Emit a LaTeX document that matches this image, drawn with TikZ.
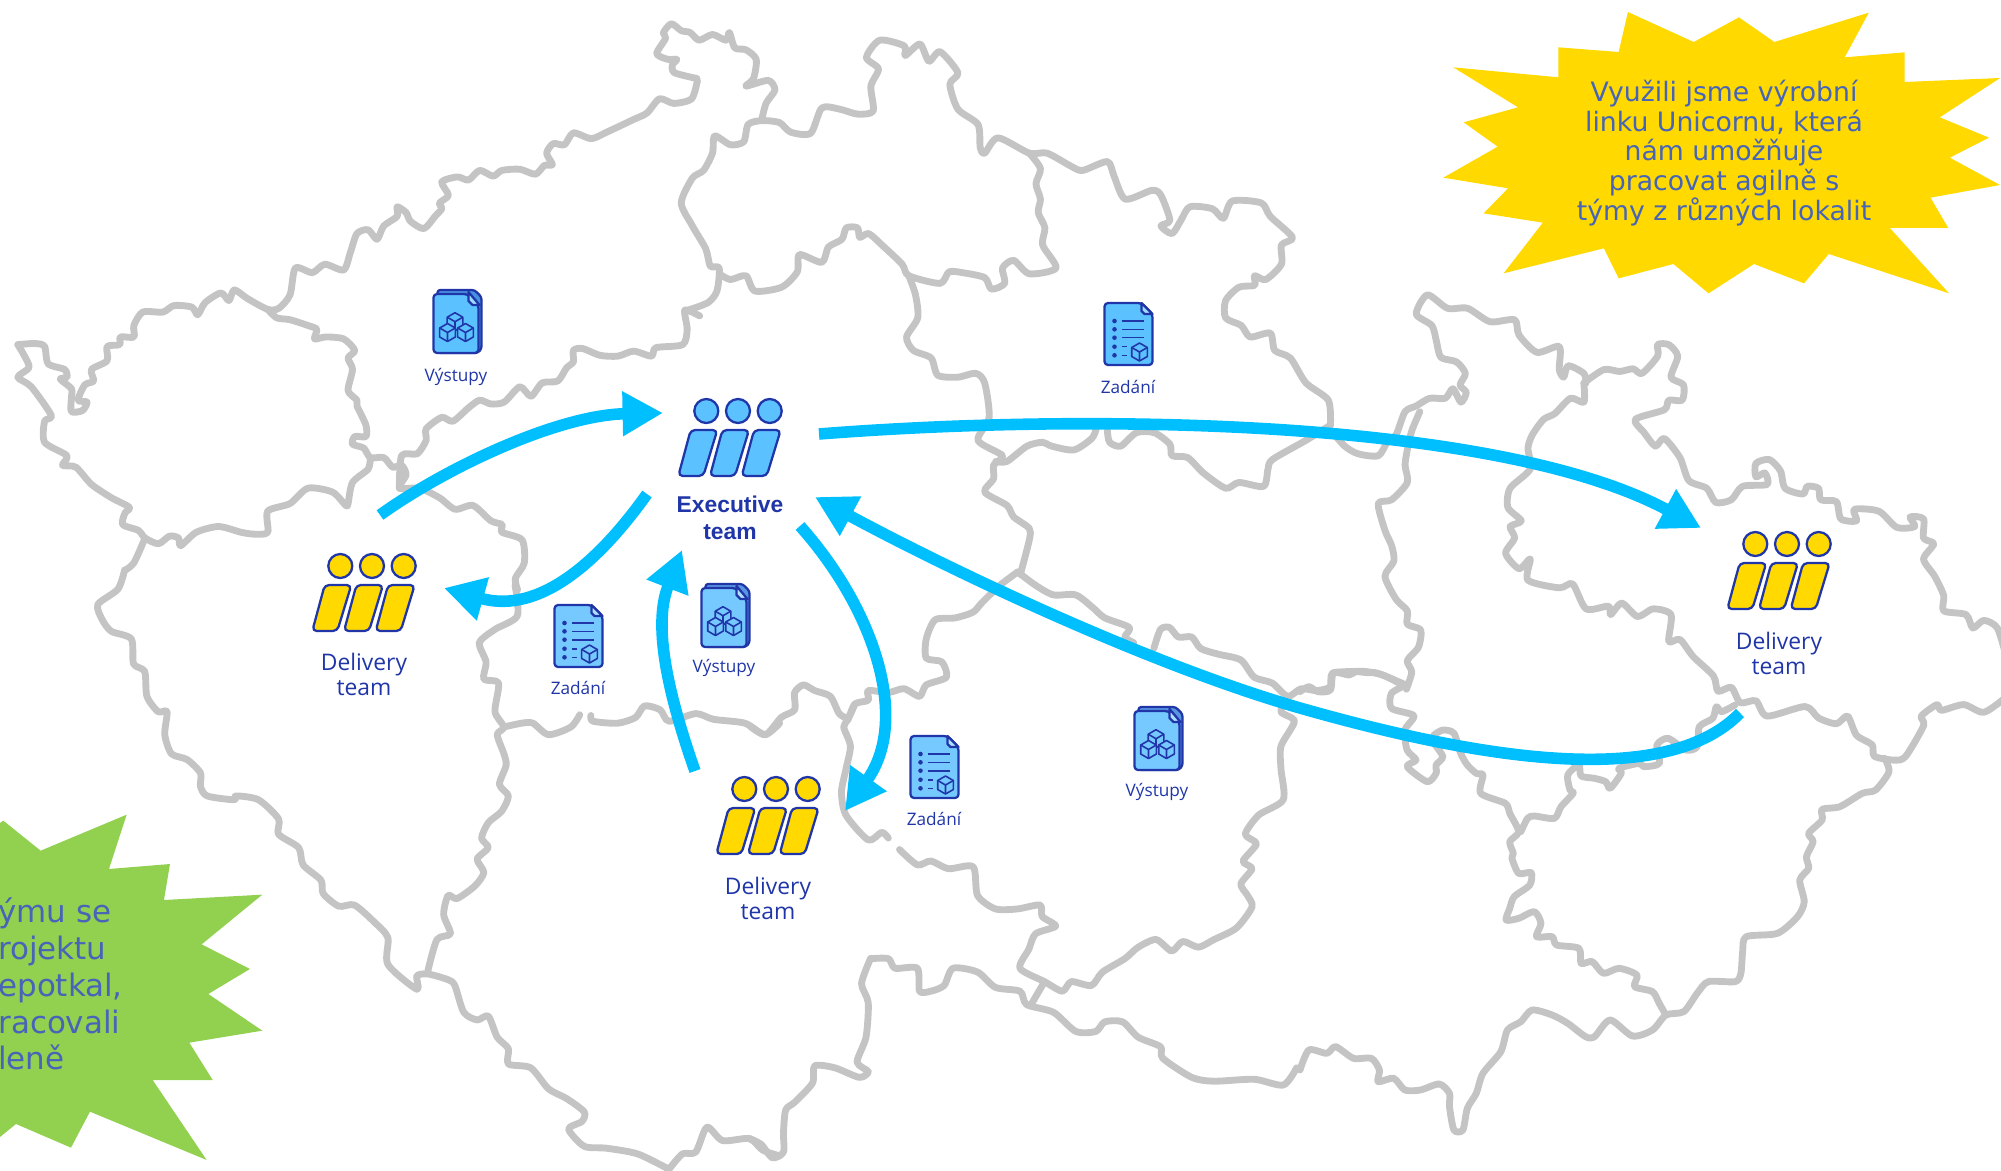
\documentclass[tikz,border=0pt]{standalone}
\usepackage{fontspec}
\setmainfont{DejaVu Sans}
\newfontfamily\labelfont{Open Sans}
\newfontfamily\execfont{Liberation Sans}
\usetikzlibrary{arrows.meta,calc}
\definecolor{mapgray}{HTML}{C4C4C4}
\definecolor{flowblue}{HTML}{00BFFF}
\definecolor{inkblue}{HTML}{2036A8}
\definecolor{skyfill}{HTML}{5CC2FF}
\definecolor{skyfilltwo}{HTML}{76C9FF}
\definecolor{teamyellow}{HTML}{FFD900}
\definecolor{stargreen}{HTML}{92D050}
\definecolor{startext}{HTML}{4664B8}
\tikzset{
  crop/.style n args={4}{shift={(#1,#2)},x=#3cm,y=-#4cm},
  mapline/.style={draw=mapgray,line width=3.9pt,line join=round,line cap=round},
  flow/.style={draw=flowblue,line width=6.6pt,-{Triangle[length=23pt,width=24pt]}},
  iconline/.style={draw=inkblue,line width=1.3pt,line join=round},
  startxt/.style={text=startext,inner sep=0pt},
  teamlabel/.style={text=inkblue,align=center,inner sep=0pt,font=\labelfont\fontsize{13}{14.2}\selectfont},
  execlabel/.style={text=inkblue,align=center,inner sep=0pt,font=\execfont\bfseries\fontsize{13}{15.3}\selectfont},
  doclabel/.style={text=inkblue,inner sep=0pt,font=\labelfont\fontsize{9.8}{11}\selectfont},
  pics/teamicon/.style={code={
    \foreach \dx in {-31.7,0,31.7} {
      \draw[iconline,fill=#1] (\dx,0) circle[radius=12];
      \draw[iconline,fill=#1,rounded corners=2.5pt] ({\dx-15.6},19) -- ({\dx+11},19) -- ({\dx-3},65) -- ({\dx-28},65) -- cycle;
    }
  }},
  pics/cubeicon/.style={code={
    \draw[iconline,line width=.9pt,fill=#1] (0,-9) -- (7.8,-4.5) -- (7.8,4.5) -- (0,9) -- (-7.8,4.5) -- (-7.8,-4.5) -- cycle;
    \draw[iconline,line width=.9pt] (-7.8,-4.5) -- (0,0) -- (7.8,-4.5) (0,0) -- (0,9);
  }},
  pics/docstack/.style={code={
    \draw[iconline,fill=inkblue!35!#1,rounded corners=1.5pt] (-20,-31) -- (17,-31) -- (24,-24) -- (24,28) -- (20,32) -- (-20,32) -- cycle;
    \draw[iconline,fill=#1,rounded corners=2pt] (-24,-27) -- (10,-27) -- (21,-16) -- (21,32) -- (-24,32) -- cycle;
    \draw[iconline,fill=white!40!#1] (11,-29) -- (11,-20) -- (15,-16) -- (22,-16) -- cycle;
    \pic at (-2.5,.7) {cubeicon=#1};
    \pic at (-10,11.5) {cubeicon=#1};
    \pic at (8,11.5) {cubeicon=#1};
  }},
  pics/doclist/.style={code={
    \draw[iconline,fill=#1,rounded corners=2pt] (-24,-31) -- (13,-31) -- (24,-20) -- (24,31) -- (-24,31) -- cycle;
    \draw[iconline,fill=white!40!#1] (13,-31) -- (13,-23) -- (16,-20) -- (24,-20) -- cycle;
    \foreach \ly in {-13,-4.7,3.7,12.7,21.3} \fill[inkblue] (-14,\ly) circle[radius=2.3];
    \foreach \ly in {-13,-4.7,3.7} \draw[iconline,line width=.9pt] (-7,\ly) -- (15,\ly);
    \foreach \ly in {12.7,21.3} \draw[iconline,line width=.9pt] (-7,\ly) -- (-2,\ly);
    \pic at (11,18) {cubeicon=#1};
  }}
}
\begin{document}
\begin{tikzpicture}[x=.02cm,y=-.02cm]
  \useasboundingbox (0,0) rectangle (2001,1170);
  \clip (0,0) rectangle (2001,1170);

  \begin{scope}[crop={0}{0}{.008929}{.007654}]
    \draw[mapline] plot[smooth,tension=.45] coordinates {(40,900) (80,897) (100,905) (108,950) (145,965) (150,985) (135,990) (160,1015) (160,1040) (160,1075) (185,1072) (195,1050) (175,1045) (190,1005) (210,995) (205,965) (240,942) (240,905) (268,900) (270,880) (300,880) (300,850) (320,815) (365,815) (390,798) (430,802) (443,822) (460,790) (495,765) (513,785) (525,757) (555,780) (600,808) (625,805) (650,770) (662,700) (700,712) (728,690) (770,705) (785,660) (800,610) (825,600) (845,625) (860,590) (890,565) (890,540) (910,555) (920,578) (950,597) (975,565) (990,545) (985,530) (1005,510) (990,475) (1025,462) (1050,470) (1075,445) (1105,460) (1125,445) (1165,442) (1200,455) (1220,432) (1238,430) (1225,400) (1240,375) (1265,378) (1285,347) (1325,362) (1360,345) (1420,312) (1450,295) (1478,258) (1510,270) (1550,258) (1563,210)};
    \draw[mapline] plot[smooth,tension=.45] coordinates {(600,808) (620,830) (650,835) (690,850) (710,860) (705,885) (730,880) (770,885) (795,915) (780,935) (790,965) (780,1020) (800,1045) (800,1060) (820,1110) (820,1140) (795,1140) (790,1160) (815,1170) (830,1195) (860,1195) (880,1220) (900,1215) (910,1240) (895,1275) (940,1275) (985,1300) (1020,1330) (1060,1320) (1100,1360) (1125,1370) (1125,1390) (1170,1410) (1175,1470) (1155,1510) (1160,1540)};
    \draw[mapline] plot[smooth,tension=.45] coordinates {(830,1195) (825,1225) (790,1260) (780,1315) (775,1320) (745,1285) (690,1275) (650,1315) (600,1335) (600,1390) (570,1395) (540,1390) (490,1375) (440,1390) (405,1425) (400,1405) (380,1400) (355,1420) (325,1405) (310,1385) (275,1370) (280,1340) (290,1325) (250,1300) (205,1265) (170,1220) (140,1215) (150,1190) (100,1155) (100,1100) (115,1085) (70,1010) (40,985) (65,960) (55,930) (40,900)};
    \draw[mapline] plot[smooth,tension=.45] coordinates {(325,1405) (300,1470) (279,1490)};
    \draw[mapline] plot[smooth,tension=.45] coordinates {(895,1275) (900,1190) (935,1185) (955,1150) (955,1120) (990,1090) (1015,1100) (1050,1065) (1075,1045) (1100,1055) (1130,1050) (1165,1010) (1190,1035) (1215,1000) (1250,995) (1270,960) (1285,945) (1285,915) (1305,910) (1345,928) (1385,930) (1420,917) (1460,930) (1470,908) (1530,900) (1540,860) (1535,810) (1568,825)};
  \end{scope}

  \begin{scope}[crop={650}{0}{.008929}{.007654}]
    \draw[mapline] plot[smooth,tension=.45] coordinates {(105,205) (55,190) (50,170) (60,155) (40,155) (15,140) (35,100) (30,85) (48,62) (70,80) (90,85) (110,105) (140,90) (170,105) (178,85) (190,125) (215,130) (238,155) (232,205) (215,225) (265,210) (280,235) (260,270) (250,315)};
    \draw[mapline] plot[smooth,tension=.45] coordinates {(78,810) (85,810) (130,790) (150,760) (155,700) (135,695) (125,650) (95,590) (70,530) (95,465) (120,445) (140,400) (145,355) (180,378) (210,370) (220,325) (250,315) (290,320) (315,345) (360,348) (385,282) (425,285) (465,298) (500,290) (495,225) (512,180) (485,150) (515,105) (570,120) (572,145) (605,115) (625,160) (650,135) (690,190) (672,220) (690,285) (735,325) (740,385) (750,400) (780,360) (850,400) (890,400) (945,435) (970,445) (1025,422) (1040,460) (1065,520) (1125,497) (1145,510) (1165,575) (1145,590) (1170,610) (1190,575) (1210,540) (1260,545) (1285,570) (1305,525) (1370,530) (1390,565) (1440,620) (1415,640) (1415,690) (1380,730) (1355,720) (1355,745) (1320,750) (1290,785) (1290,830) (1325,850) (1345,880) (1390,870) (1400,915) (1435,935) (1470,1000) (1520,1045) (1525,1110)};
    \draw[mapline] plot[smooth,tension=.45] coordinates {(155,715) (180,730) (215,720) (235,760) (295,750) (330,710) (335,665) (385,685) (400,645) (430,625) (440,595) (465,595) (470,620) (490,610) (520,640) (565,690) (580,720) (650,740) (670,710) (700,712) (750,725) (765,755) (795,740) (790,700) (815,680) (850,715) (910,700) (880,640) (885,595) (870,555) (875,520) (865,480) (875,440) (850,400)};
    \draw[mapline] plot[smooth,tension=.45] coordinates {(580,720) (595,770) (600,830) (575,880) (590,915) (630,935) (645,980) (690,985) (730,975) (750,1000) (760,1090) (735,1150) (790,1190) (770,1215) (770,1250) (750,1285) (800,1320) (815,1350) (850,1380) (850,1410) (830,1500)};
    \draw[mapline] plot[smooth,tension=.45] coordinates {(775,1205) (800,1205) (845,1165) (880,1155) (900,1165) (950,1175) (990,1145) (1000,1120)};
    \draw[mapline] plot[smooth,tension=.45] coordinates {(1025,1125) (1030,1155) (1055,1165) (1090,1130) (1130,1130) (1165,1160) (1170,1190) (1205,1195) (1240,1235) (1290,1275) (1320,1260) (1375,1270) (1385,1225) (1395,1200) (1470,1150) (1525,1110)};
  \end{scope}

  \begin{scope}[crop={1300}{270}{.00894}{.007654}]
    \draw[mapline] plot[smooth,tension=.45] coordinates {(70,420) (100,460) (130,480) (175,485) (195,450) (215,430) (235,370) (260,355) (290,335) (325,335) (342,310) (360,345) (372,320) (358,300) (370,270) (350,240) (315,228) (305,185) (295,145) (260,115) (285,65) (330,100) (375,100) (425,135) (480,130) (490,170) (530,215) (580,200) (580,260) (590,280) (600,250) (635,270) (640,295)};
    \draw[mapline] plot[smooth,tension=.45] coordinates {(268,370) (250,420) (240,470) (235,510) (240,555) (205,600) (175,610) (190,680) (205,720) (210,760) (190,800) (215,860) (240,890) (240,925) (270,940) (265,985) (240,1020) (250,1050) (238,1095)};
    \draw[mapline] plot[smooth,tension=.45] coordinates {(635,295) (680,260) (715,265) (745,258) (765,270) (800,225) (800,195) (825,195) (845,225) (830,280) (858,300) (855,340) (825,340) (815,365) (750,390) (770,425) (795,460) (815,440) (850,490) (870,550) (910,570) (930,607) (965,600) (990,565) (1045,560) (1040,530) (1020,540) (1020,505) (1050,495) (1075,525) (1085,570) (1125,585) (1135,565) (1160,570) (1165,600) (1200,605) (1210,650) (1245,655) (1240,625) (1295,630) (1335,672) (1375,670) (1365,645) (1395,650) (1395,700) (1418,715) (1395,755) (1420,800) (1440,850) (1440,890) (1490,900) (1505,935) (1530,915) (1560,935) (1580,1010)};
    \draw[mapline] plot[smooth,tension=.45] coordinates {(1580,1115) (1530,1155) (1485,1135) (1435,1150) (1425,1135) (1390,1165) (1395,1190) (1355,1270) (1330,1280) (1285,1270) (1280,1240) (1245,1215) (1225,1165) (1200,1185) (1160,1170) (1130,1140) (1045,1165) (1020,1125) (985,1130) (965,1090) (935,1100) (925,1060) (880,1010) (850,965) (825,970) (830,900) (790,885) (755,905) (720,870) (695,900) (690,878) (640,885) (610,820) (580,830) (510,810) (515,755) (490,780) (460,740) (480,700) (470,670) (495,655) (465,620) (470,570) (515,520) (510,465) (520,430) (545,390) (570,375) (605,335) (635,345) (635,295)};
  \end{scope}

  \begin{scope}[crop={80}{570}{.008929}{.007654}]
    \draw[mapline] plot[smooth,tension=.45] coordinates {(100,0) (85,50) (40,90) (50,130) (70,160) (115,180) (120,245) (145,265) (150,330) (175,370) (195,370) (190,430) (205,480) (240,495) (270,530) (270,565) (285,590) (345,600) (350,590) (400,600) (445,650) (445,690) (490,725) (500,770) (540,810) (545,845) (580,878) (615,875) (660,920) (690,960) (690,1030) (755,1095) (755,1060) (780,1055) (825,1070) (840,1085) (860,1155) (890,1175) (915,1165) (935,1220) (960,1250) (960,1290) (1010,1300) (1050,1355) (1090,1380) (1130,1415) (1125,1440) (1095,1460) (1130,1505) (1180,1510) (1250,1525) (1320,1565)};
    \draw[mapline] plot[smooth,tension=.45] coordinates {(1320,1565) (1350,1525) (1380,1520) (1405,1455) (1440,1490) (1500,1485) (1530,1515) (1568,1530)};
    \draw[mapline] plot[smooth,tension=.45] coordinates {(975,40) (980,120) (930,155) (895,190) (910,240) (905,285) (938,295) (930,370) (950,410) (935,430) (950,480) (955,510) (940,560) (960,590) (945,630) (915,660) (900,700) (915,725) (890,755) (905,790) (885,825) (845,858) (825,850) (815,900) (830,950) (800,965) (780,1045)};
    \draw[mapline] plot[smooth,tension=.45] coordinates {(950,410) (990,400) (1015,400) (1050,430) (1100,410) (1120,378)};
    \draw[mapline] plot[smooth,tension=.45] coordinates {(1145,380) (1150,395) (1205,400) (1245,385) (1265,355) (1300,365) (1320,395) (1380,375) (1420,390) (1490,400) (1535,430) (1568,400)};
  \end{scope}

  \begin{scope}[crop={750}{570}{.008929}{.007654}]
    \draw[mapline] plot[smooth,tension=.45] coordinates {(0,408) (35,430) (70,385) (100,365) (100,320) (120,300) (145,315) (180,330) (200,375) (220,385) (235,350)};
    \draw[mapline] plot[smooth,tension=.45] coordinates {(600,5) (640,40) (680,65) (730,65) (770,100) (795,125) (850,150) (840,175) (860,190)};
    \draw[mapline] plot[smooth,tension=.45] coordinates {(905,205) (920,155) (940,150) (960,175) (990,175) (1010,205) (1050,220) (1100,235) (1130,280) (1170,295) (1205,330) (1235,310) (1270,315) (1300,305) (1305,270) (1350,265) (1380,265) (1420,275) (1470,305)};
    \draw[mapline] plot[smooth,tension=.45] coordinates {(600,5) (560,40) (520,85) (500,110) (460,125) (415,130) (395,180) (395,230) (430,240) (440,280) (395,300) (380,330) (345,310) (310,320) (265,315) (265,340) (235,350) (220,390) (210,410) (225,460) (215,520) (205,580) (215,640) (265,705) (295,685) (310,700)};
    \draw[mapline] plot[smooth,tension=.45] coordinates {(335,730) (375,770) (405,760) (445,780) (500,775) (510,850) (550,885) (600,885) (650,875) (655,905) (685,930) (640,950) (625,990) (605,1040) (660,1075) (700,1100) (720,1075) (765,1085) (790,1050) (840,1015) (870,985) (910,965) (945,995) (970,970) (1005,985) (1040,965) (1090,935) (1125,880) (1115,850) (1100,820) (1125,780) (1105,760) (1135,715) (1110,690) (1140,640) (1195,600) (1190,520) (1190,460) (1220,395) (1190,370) (1205,330)};
    \draw[mapline] plot[smooth,tension=.45] coordinates {(660,1075) (630,1135)};
    \draw[mapline] plot[smooth,tension=.45] coordinates {(270,1015) (250,1080) (265,1130) (260,1220) (240,1285) (265,1310) (245,1325) (190,1300) (145,1295) (140,1340) (100,1390) (80,1410) (75,1470) (75,1520) (50,1535) (25,1500) (0,1485)};
    \draw[mapline] plot[smooth,tension=.45] coordinates {(270,1015) (310,1015) (325,1040) (375,1040) (380,1100) (405,1100) (435,1085) (455,1040) (510,1050) (550,1090) (605,1100) (620,1135) (680,1155) (730,1205) (775,1205) (795,1180) (835,1180) (870,1220) (920,1245) (925,1275) (990,1325) (1040,1335) (1130,1330) (1195,1345) (1225,1300)};
  \end{scope}

  \begin{scope}[crop={1300}{650}{.008929}{.006667}]
    \draw[mapline] plot[smooth,tension=.45] coordinates {(0,125) (20,110) (40,125) (68,120) (75,68) (110,75) (125,65) (150,68) (175,70) (238,105)};
    \draw[mapline] plot[smooth,tension=.45] coordinates {(238,105) (205,130) (205,175) (255,197) (235,240) (240,300) (260,330) (240,350) (285,395) (305,370) (305,345) (320,320) (300,280)};
    \draw[mapline] plot[smooth,tension=.45] coordinates {(300,255) (320,240) (345,250) (360,310) (375,345) (395,370) (410,375) (405,430) (460,460) (470,490) (490,545) (470,575) (478,610) (475,625) (490,670) (518,668) (515,705) (480,740) (470,775) (462,810) (490,805) (525,785) (540,820) (530,860) (565,860) (575,885) (625,895) (630,940) (655,935) (680,970) (715,955) (755,975) (750,1010) (790,1025) (805,1060) (820,1095)};
    \draw[mapline] plot[smooth,tension=.45] coordinates {(975,165) (945,185) (933,170) (925,205) (895,230) (890,290) (865,300) (825,265) (800,285) (805,340) (770,350) (760,340) (715,355) (720,370) (695,415) (685,395) (660,385) (630,378) (625,345) (600,375) (605,420) (612,430) (585,470) (570,505) (525,498) (510,505) (495,545)};
    \draw[mapline] plot[smooth,tension=.45] coordinates {(0,1260) (20,1200) (60,1210) (80,1190) (120,1225) (160,1225) (178,1260) (175,1295) (210,1285) (235,1320) (270,1320) (312,1302) (335,1330) (335,1370) (345,1440) (365,1440) (375,1375) (395,1330) (410,1270) (450,1205) (465,1140) (495,1115) (520,1080) (565,1095) (600,1120) (640,1160) (660,1160) (695,1110) (745,1158) (790,1140) (820,1095) (860,1085) (890,1030) (915,995) (975,995) (988,970) (992,905) (1000,860) (1070,850) (1115,800) (1130,755) (1120,690) (1140,655) (1135,620) (1150,575) (1140,550) (1170,510) (1170,478) (1210,470) (1260,430) (1290,420) (1320,365) (1310,325)};
  \end{scope}

  \begin{scope}[crop={1420}{0}{.007407}{.006667}]
    \fill[teamyellow] (562,36) -- (740,126) -- (862,52) -- (958,126) -- (1213,38) -- (1148,172) -- (1310,157) -- (1310,246) -- (1568,234) -- (1405,352) -- (1538,413) -- (1432,473) -- (1568,555) -- (1380,593) -- (1428,684) -- (1270,684) -- (1430,880) -- (1105,762) -- (1038,850) -- (903,792) -- (780,880) -- (685,792) -- (537,835) -- (497,745) -- (226,820) -- (332,668) -- (172,640) -- (238,565) -- (63,533) -- (210,440) -- (118,367) -- (265,322) -- (90,202) -- (374,232) -- (374,142) -- (537,156) -- cycle;
  \end{scope}
  \begin{scope}[crop={0}{800}{.006667}{.006667}]
    \fill[stargreen] (10,62) -- (122,152) -- (380,44) -- (327,207) -- (510,192) -- (492,300) -- (787,284) -- (605,433) -- (750,507) -- (625,582) -- (787,692) -- (568,728) -- (638,840) -- (458,840) -- (620,1080) -- (270,935) -- (213,1043) -- (48,972) -- (-60,1060) -- (-60,110) -- cycle;
  \end{scope}
  \node[startxt,align=center,font=\fontsize{15.2}{17}\selectfont] (starunicorn) at (1724,153) {Využili jsme výrobní\\linku Unicornu, která\\nám umožňuje\\pracovat agilně s\\týmy z různých lokalit};
  \node[startxt,align=left,anchor=west,font=\fontsize{17.6}{21}\selectfont] (starteam) at (-2,984) {ýmu se\\rojektu\\epotkal,\\racovali\\leně};

  \node[execlabel] (exec) at (730,518) {Executive\\team};
  \node[teamlabel] (west) at (364,674) {Delivery\\team};
  \node[teamlabel] (south) at (768,898) {Delivery\\team};
  \node[teamlabel] (east) at (1779,653) {Delivery\\team};
  \pic at ($(exec)+(8,-107)$) {teamicon=skyfill};
  \pic at ($(west)+(8,-108)$) {teamicon=teamyellow};
  \pic at ($(south)+(8,-109)$) {teamicon=teamyellow};
  \pic at ($(east)+(8,-109)$) {teamicon=teamyellow};

  \node[doclabel] (vystupya) at (456,377) {Výstupy};
  \node[doclabel] (vystupyb) at (724,668) {Výstupy};
  \node[doclabel] (vystupyc) at (1157,792) {Výstupy};
  \node[doclabel] (zadania) at (1128,387) {Zadání};
  \node[doclabel] (zadanib) at (578,688) {Zadání};
  \node[doclabel] (zadanic) at (934,819) {Zadání};
  \pic at ($(vystupya)+(1.5,-56)$) {docstack=skyfill};
  \pic at ($(vystupyb)+(1.5,-53)$) {docstack=skyfilltwo};
  \pic at ($(vystupyc)+(1.5,-54)$) {docstack=skyfilltwo};
  \pic at ($(zadania)+(.5,-53)$) {doclist=skyfill};
  \pic at ($(zadanib)+(.5,-52)$) {doclist=skyfilltwo};
  \pic at ($(zadanic)+(.5,-52)$) {doclist=skyfilltwo};

  \coordinate (westout) at ($(west)+(16,-159)$);
  \coordinate (westin) at ($(west)+(80,-86)$);
  \coordinate (execinw) at ($(exec)+(-67,-105)$);
  \coordinate (execoutsw) at ($(exec)+(-83,-24)$);
  \coordinate (execins) at ($(exec)+(-48,32)$);
  \coordinate (execoutse) at ($(exec)+(70,8)$);
  \coordinate (execinse) at ($(exec)+(85,-21)$);
  \coordinate (execoute) at ($(exec)+(89,-84)$);
  \coordinate (southout) at ($(south)+(-73,-127)$);
  \coordinate (southin) at ($(south)+(77,-87)$);
  \coordinate (eastin) at ($(east)+(-78,-125)$);
  \coordinate (eastout) at ($(east)+(-39,60)$);

  \draw[flow] (westout) .. controls (450,465) and (560,415) .. (execinw);
  \draw[flow] (execoutsw) .. controls (600,560) and (540,615) .. (westin);
  \draw[flow] (execoute) .. controls (1100,412) and (1500,420) .. (eastin);
  \draw[flow] (execoutse) .. controls (875,610) and (910,720) .. (southin);
  \draw[flow] (southout) .. controls (656,660) and (658,612) .. (execins);
  \draw[flow] (eastout) .. controls (1670,785) and (1500,765) .. (1300,708) .. controls (1150,665) and (950,570) .. (execinse);
\end{tikzpicture}
\end{document}
